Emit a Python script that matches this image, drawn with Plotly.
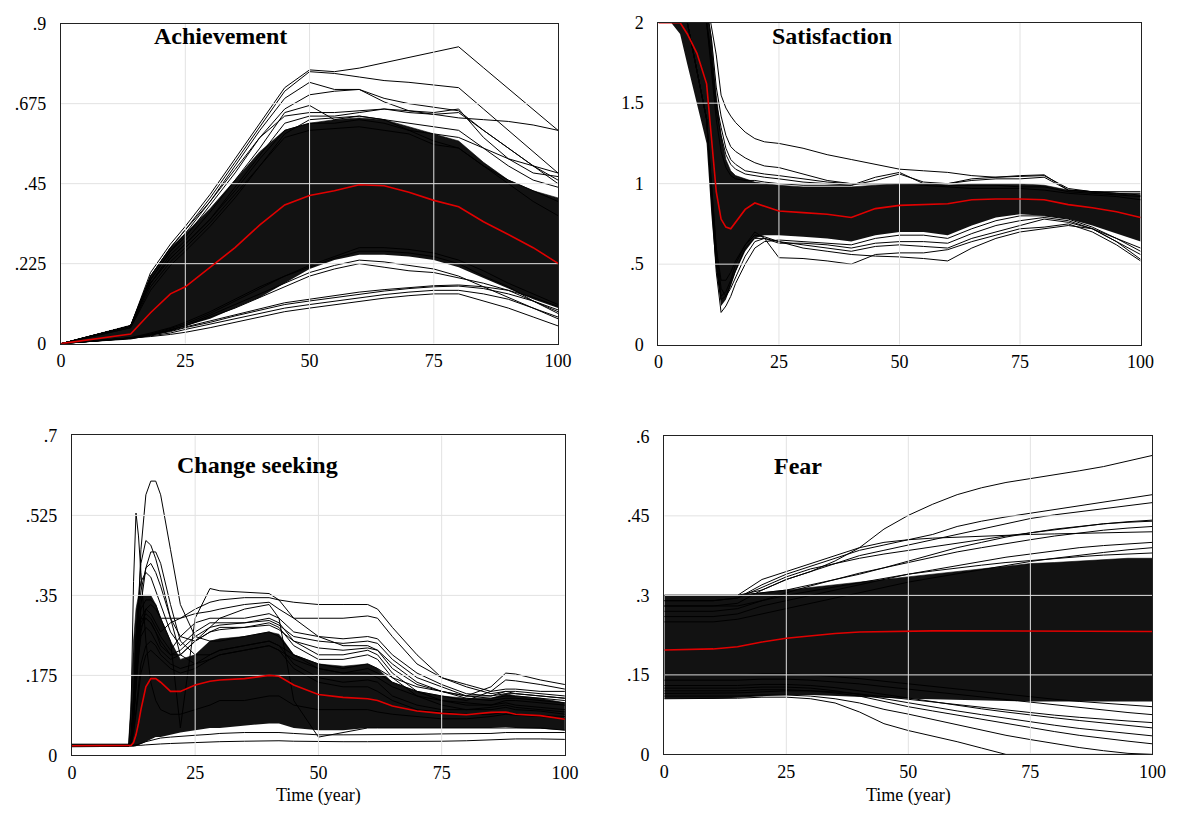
import plotly.graph_objects as go

# ---------------- Achievement ----------------
ach_t = [0, 14, 18, 22, 25, 30, 35, 40, 45, 50, 55, 60, 65, 70, 75, 80, 85, 90, 95, 100]
ach_mean = [0, 0.027, 0.087, 0.14, 0.16, 0.215, 0.27, 0.334, 0.39, 0.417, 0.43, 0.447, 0.444, 0.426, 0.403, 0.385, 0.343, 0.307, 0.27, 0.226]
ach_core_hi = [0, 0.052, 0.19, 0.27, 0.31, 0.38, 0.46, 0.54, 0.60, 0.62, 0.63, 0.635, 0.63, 0.61, 0.59, 0.57, 0.51, 0.46, 0.43, 0.41]
ach_core_lo = [0, 0.012, 0.022, 0.035, 0.05, 0.07, 0.10, 0.13, 0.17, 0.21, 0.235, 0.25, 0.25, 0.245, 0.235, 0.215, 0.185, 0.155, 0.125, 0.10]
ach_a1 = [0, 0.05, 0.20, 0.28, 0.33, 0.42, 0.52, 0.62, 0.72, 0.77, 0.765, 0.775, 0.79, 0.805, 0.82, 0.835, 0.776, 0.718, 0.66, 0.60]
ach_a2 = [0, 0.05, 0.19, 0.27, 0.32, 0.41, 0.51, 0.61, 0.71, 0.765, 0.76, 0.75, 0.74, 0.735, 0.728, 0.72, 0.66, 0.60, 0.54, 0.48]
ach_a3 = [0, 0.05, 0.18, 0.26, 0.31, 0.40, 0.50, 0.60, 0.69, 0.735, 0.715, 0.715, 0.69, 0.675, 0.665, 0.655, 0.60, 0.55, 0.50, 0.46]
ach_a4 = [0, 0.05, 0.18, 0.26, 0.30, 0.39, 0.48, 0.58, 0.66, 0.70, 0.71, 0.715, 0.68, 0.655, 0.645, 0.635, 0.63, 0.625, 0.615, 0.60]
ach_a5 = [0, 0.05, 0.17, 0.25, 0.29, 0.37, 0.46, 0.55, 0.65, 0.67, 0.63, 0.64, 0.63, 0.60, 0.57, 0.55, 0.50, 0.45, 0.40, 0.36]
ach_a6 = [0, 0.05, 0.17, 0.24, 0.28, 0.35, 0.44, 0.53, 0.62, 0.64, 0.64, 0.65, 0.66, 0.655, 0.65, 0.66, 0.58, 0.52, 0.48, 0.47]
ach_a7 = [0, 0.045, 0.15, 0.22, 0.26, 0.33, 0.41, 0.50, 0.59, 0.63, 0.635, 0.64, 0.63, 0.62, 0.61, 0.60, 0.55, 0.50, 0.46, 0.44]
ach_a8 = [0, 0.05, 0.19, 0.27, 0.32, 0.40, 0.49, 0.58, 0.64, 0.65, 0.65, 0.655, 0.66, 0.65, 0.645, 0.65, 0.60, 0.55, 0.50, 0.45]
ach_d1 = [0, 0.05, 0.17, 0.24, 0.28, 0.35, 0.43, 0.52, 0.60, 0.62, 0.62, 0.63, 0.62, 0.60, 0.59, 0.58, 0.55, 0.52, 0.50, 0.48]
ach_d2 = [0, 0.045, 0.16, 0.23, 0.27, 0.34, 0.42, 0.50, 0.58, 0.60, 0.605, 0.61, 0.60, 0.59, 0.56, 0.55, 0.50, 0.46, 0.43, 0.40]
ach_b1 = [0, 0.015, 0.022, 0.03, 0.04, 0.055, 0.07, 0.085, 0.10, 0.11, 0.12, 0.13, 0.138, 0.145, 0.15, 0.15, 0.14, 0.125, 0.10, 0.075]
ach_b2 = [0, 0.015, 0.024, 0.034, 0.045, 0.06, 0.078, 0.095, 0.11, 0.12, 0.13, 0.14, 0.148, 0.155, 0.16, 0.162, 0.155, 0.14, 0.12, 0.095]
ach_b3 = [0, 0.014, 0.02, 0.026, 0.032, 0.045, 0.06, 0.075, 0.09, 0.10, 0.11, 0.12, 0.128, 0.135, 0.14, 0.14, 0.12, 0.10, 0.075, 0.05]
ach_b4 = [0, 0.016, 0.025, 0.036, 0.047, 0.064, 0.083, 0.10, 0.115, 0.125, 0.135, 0.145, 0.152, 0.158, 0.163, 0.165, 0.16, 0.15, 0.13, 0.105]
ach_c1 = [0, 0.016, 0.026, 0.04, 0.05, 0.08, 0.11, 0.14, 0.17, 0.20, 0.22, 0.235, 0.23, 0.22, 0.21, 0.19, 0.16, 0.13, 0.10, 0.07]
ach_c2 = [0, 0.016, 0.027, 0.042, 0.055, 0.085, 0.12, 0.155, 0.19, 0.215, 0.24, 0.26, 0.26, 0.255, 0.245, 0.225, 0.19, 0.16, 0.12, 0.09]
ach_c3 = [0, 0.017, 0.03, 0.045, 0.06, 0.09, 0.125, 0.16, 0.19, 0.22, 0.245, 0.27, 0.27, 0.265, 0.255, 0.235, 0.205, 0.17, 0.14, 0.11]
ach_c4 = [0, 0.016, 0.025, 0.038, 0.05, 0.075, 0.10, 0.13, 0.16, 0.19, 0.21, 0.225, 0.215, 0.205, 0.20, 0.185, 0.17, 0.15, 0.12, 0.085]
ach_ticks = [0, 0.225, 0.45, 0.675, 0.9]
ach_ticktext = ["0", ".225", ".45", ".675", ".9"]

# ---------------- Satisfaction ----------------
sat_t = [0, 4.5, 6, 8, 10, 11, 12, 13, 14, 15, 16, 18, 20, 22, 25, 30, 35, 40, 45, 50, 55, 60, 65, 70, 75, 80, 85, 90, 95, 100]
sat_mean = [2.0, 2.0, 1.93, 1.81, 1.62, 1.3, 0.95, 0.78, 0.73, 0.72, 0.76, 0.84, 0.88, 0.86, 0.83, 0.82, 0.81, 0.79, 0.845, 0.865, 0.87, 0.875, 0.9, 0.905, 0.905, 0.9, 0.87, 0.85, 0.825, 0.79]
sat_core_hi = [2.1, 2.1, 2.1, 2.1, 2.1, 1.9, 1.55, 1.3, 1.15, 1.08, 1.05, 1.03, 1.01, 1.0, 0.99, 0.98, 0.98, 0.98, 0.99, 1.0, 1.0, 0.99, 1.0, 1.0, 1.0, 0.99, 0.96, 0.95, 0.94, 0.93]
sat_core_lo = [2.1, 1.93, 1.74, 1.5, 1.25, 0.8, 0.45, 0.24, 0.28, 0.36, 0.45, 0.58, 0.66, 0.68, 0.68, 0.67, 0.66, 0.64, 0.68, 0.70, 0.70, 0.68, 0.74, 0.79, 0.81, 0.80, 0.78, 0.74, 0.69, 0.64]
sat_s1 = [2.3, 2.3, 2.28, 2.25, 2.15, 1.98, 1.8, 1.55, 1.47, 1.42, 1.38, 1.32, 1.28, 1.26, 1.25, 1.22, 1.18, 1.15, 1.12, 1.09, 1.08, 1.07, 1.05, 1.04, 1.045, 1.05, 0.97, 0.95, 0.94, 0.93]
sat_s2 = [2.3, 2.3, 2.25, 2.2, 2.1, 1.9, 1.6, 1.42, 1.3, 1.23, 1.2, 1.16, 1.13, 1.11, 1.1, 1.06, 1.02, 1.0, 1.0, 1.0, 0.99, 0.98, 0.97, 0.97, 0.97, 0.96, 0.94, 0.93, 0.92, 0.9]
sat_s3 = [2.3, 2.3, 2.2, 2.1, 2.0, 1.7, 1.4, 1.2, 1.1, 1.05, 1.03, 1.02, 1.02, 1.01, 1.0, 0.99, 0.99, 0.99, 1.04, 1.07, 1.0, 0.99, 0.99, 0.99, 0.98, 0.98, 0.95, 0.94, 0.93, 0.92]
sat_s4 = [2.3, 2.3, 2.2, 2.1, 2.0, 1.8, 1.5, 1.35, 1.22, 1.15, 1.12, 1.08, 1.07, 1.06, 1.05, 1.03, 1.01, 1.0, 1.0, 1.0, 1.0, 1.0, 1.03, 1.04, 1.05, 1.055, 0.96, 0.95, 0.95, 0.95]
sat_s9 = [2.3, 2.3, 2.2, 2.1, 2.0, 1.75, 1.45, 1.3, 1.18, 1.12, 1.09, 1.06, 1.05, 1.04, 1.03, 1.01, 1.0, 0.99, 1.02, 1.06, 1.01, 1.0, 1.02, 1.03, 1.03, 1.04, 0.96, 0.95, 0.94, 0.94]
sat_s5 = [2.3, 2.2, 2.0, 1.7, 1.4, 1.0, 0.6, 0.4, 0.4, 0.45, 0.52, 0.62, 0.70, 0.66, 0.54, 0.535, 0.52, 0.50, 0.56, 0.57, 0.57, 0.59, 0.64, 0.68, 0.72, 0.73, 0.75, 0.70, 0.62, 0.52]
sat_s6 = [2.3, 2.2, 2.0, 1.7, 1.4, 1.0, 0.6, 0.35, 0.30, 0.35, 0.42, 0.55, 0.64, 0.66, 0.64, 0.60, 0.58, 0.56, 0.55, 0.545, 0.535, 0.52, 0.60, 0.66, 0.70, 0.72, 0.74, 0.72, 0.64, 0.53]
sat_s7 = [2.3, 2.2, 2.0, 1.7, 1.4, 0.95, 0.55, 0.30, 0.33, 0.40, 0.50, 0.62, 0.68, 0.67, 0.64, 0.62, 0.60, 0.58, 0.61, 0.62, 0.61, 0.60, 0.66, 0.70, 0.74, 0.78, 0.76, 0.72, 0.66, 0.58]
sat_s8 = [2.3, 2.2, 2.0, 1.7, 1.4, 0.9, 0.45, 0.20, 0.24, 0.30, 0.38, 0.50, 0.60, 0.64, 0.65, 0.64, 0.63, 0.62, 0.66, 0.68, 0.68, 0.66, 0.72, 0.77, 0.80, 0.80, 0.78, 0.73, 0.66, 0.60]
sat_s10 = [2.3, 2.2, 2.0, 1.7, 1.4, 0.92, 0.5, 0.28, 0.30, 0.38, 0.46, 0.60, 0.66, 0.66, 0.63, 0.63, 0.62, 0.60, 0.63, 0.64, 0.64, 0.63, 0.69, 0.74, 0.77, 0.79, 0.77, 0.72, 0.64, 0.56]
sat_ticks = [0, 0.5, 1, 1.5, 2]
sat_ticktext = ["0", ".5", "1", "1.5", "2"]

# ---------------- Change seeking ----------------
chg_t = [0, 11.5, 12, 12.5, 13, 13.5, 14, 15, 16, 17, 18, 20, 22, 25, 28, 30, 35, 40, 42, 45, 50, 55, 60, 62, 65, 70, 75, 80, 85, 88, 90, 95, 100]
chg_mean = [0.021, 0.021, 0.022, 0.028, 0.045, 0.07, 0.10, 0.15, 0.168, 0.168, 0.16, 0.14, 0.14, 0.154, 0.162, 0.165, 0.168, 0.175, 0.173, 0.154, 0.133, 0.127, 0.124, 0.12, 0.108, 0.097, 0.092, 0.089, 0.094, 0.095, 0.09, 0.087, 0.079]
chg_core_hi = [0.025, 0.025, 0.12, 0.25, 0.32, 0.35, 0.35, 0.35, 0.35, 0.33, 0.30, 0.25, 0.21, 0.22, 0.25, 0.255, 0.26, 0.27, 0.265, 0.22, 0.20, 0.195, 0.20, 0.19, 0.16, 0.14, 0.13, 0.125, 0.125, 0.135, 0.13, 0.125, 0.115]
chg_core_lo = [0.018, 0.018, 0.018, 0.019, 0.02, 0.022, 0.025, 0.03, 0.035, 0.04, 0.04, 0.045, 0.05, 0.055, 0.06, 0.06, 0.065, 0.07, 0.07, 0.06, 0.055, 0.055, 0.06, 0.06, 0.06, 0.06, 0.06, 0.06, 0.06, 0.062, 0.06, 0.058, 0.055]
chg_p1 = [0.021, 0.021, 0.03, 0.08, 0.20, 0.33, 0.45, 0.57, 0.60, 0.60, 0.57, 0.45, 0.33, 0.26, 0.25, 0.25, 0.26, 0.27, 0.26, 0.22, 0.19, 0.18, 0.18, 0.17, 0.15, 0.13, 0.12, 0.115, 0.11, 0.12, 0.12, 0.115, 0.11]
chg_p2 = [0.021, 0.021, 0.10, 0.38, 0.53, 0.48, 0.40, 0.25, 0.16, 0.12, 0.10, 0.09, 0.09, 0.10, 0.11, 0.12, 0.12, 0.13, 0.13, 0.11, 0.10, 0.10, 0.10, 0.095, 0.09, 0.085, 0.08, 0.08, 0.085, 0.09, 0.088, 0.085, 0.08]
chg_p3 = [0.021, 0.021, 0.04, 0.12, 0.25, 0.35, 0.42, 0.47, 0.46, 0.43, 0.39, 0.30, 0.22, 0.20, 0.21, 0.22, 0.23, 0.24, 0.23, 0.19, 0.16, 0.15, 0.15, 0.14, 0.12, 0.10, 0.095, 0.09, 0.09, 0.095, 0.09, 0.088, 0.085]
chg_p4 = [0.021, 0.021, 0.03, 0.07, 0.15, 0.25, 0.33, 0.41, 0.445, 0.445, 0.42, 0.33, 0.25, 0.22, 0.22, 0.23, 0.24, 0.25, 0.24, 0.20, 0.17, 0.16, 0.165, 0.16, 0.13, 0.11, 0.10, 0.10, 0.10, 0.105, 0.10, 0.097, 0.09]
chg_p5 = [0.021, 0.021, 0.035, 0.10, 0.20, 0.30, 0.36, 0.41, 0.42, 0.40, 0.37, 0.30, 0.26, 0.25, 0.27, 0.28, 0.28, 0.29, 0.28, 0.24, 0.21, 0.21, 0.22, 0.21, 0.17, 0.13, 0.11, 0.10, 0.105, 0.11, 0.105, 0.10, 0.095]
chg_p6 = [0.021, 0.021, 0.04, 0.13, 0.26, 0.34, 0.38, 0.40, 0.39, 0.36, 0.33, 0.27, 0.24, 0.27, 0.29, 0.29, 0.29, 0.30, 0.29, 0.25, 0.22, 0.22, 0.23, 0.22, 0.18, 0.14, 0.12, 0.11, 0.11, 0.115, 0.11, 0.105, 0.10]
chg_q1 = [0.021, 0.021, 0.03, 0.08, 0.15, 0.22, 0.27, 0.32, 0.33, 0.32, 0.30, 0.25, 0.06, 0.30, 0.365, 0.36, 0.357, 0.354, 0.34, 0.30, 0.26, 0.24, 0.24, 0.23, 0.20, 0.16, 0.14, 0.13, 0.13, 0.14, 0.135, 0.13, 0.125]
chg_q2 = [0.021, 0.021, 0.03, 0.10, 0.20, 0.28, 0.32, 0.34, 0.34, 0.33, 0.30, 0.30, 0.30, 0.32, 0.335, 0.34, 0.345, 0.345, 0.34, 0.335, 0.33, 0.33, 0.33, 0.32, 0.28, 0.22, 0.17, 0.155, 0.14, 0.145, 0.145, 0.14, 0.14]
chg_q3 = [0.021, 0.021, 0.03, 0.09, 0.18, 0.26, 0.30, 0.32, 0.31, 0.29, 0.27, 0.29, 0.30, 0.31, 0.315, 0.32, 0.33, 0.335, 0.32, 0.30, 0.30, 0.30, 0.305, 0.30, 0.26, 0.20, 0.17, 0.15, 0.135, 0.14, 0.14, 0.135, 0.13]
chg_q4 = [0.021, 0.021, 0.03, 0.10, 0.20, 0.27, 0.30, 0.30, 0.29, 0.27, 0.24, 0.22, 0.22, 0.25, 0.28, 0.30, 0.32, 0.33, 0.30, 0.12, 0.04, 0.05, 0.06, 0.06, 0.06, 0.06, 0.06, 0.06, 0.06, 0.06, 0.06, 0.06, 0.055]
chg_m1 = [0.021, 0.021, 0.03, 0.09, 0.17, 0.24, 0.28, 0.30, 0.29, 0.27, 0.25, 0.22, 0.23, 0.26, 0.28, 0.285, 0.29, 0.295, 0.285, 0.26, 0.25, 0.245, 0.25, 0.245, 0.21, 0.17, 0.15, 0.13, 0.125, 0.13, 0.13, 0.125, 0.12]
chg_m2 = [0.021, 0.021, 0.03, 0.08, 0.16, 0.22, 0.26, 0.28, 0.27, 0.25, 0.23, 0.21, 0.22, 0.25, 0.27, 0.275, 0.28, 0.285, 0.275, 0.25, 0.235, 0.23, 0.235, 0.23, 0.19, 0.155, 0.14, 0.125, 0.12, 0.125, 0.125, 0.12, 0.115]
chg_m3 = [0.021, 0.021, 0.03, 0.09, 0.18, 0.25, 0.29, 0.31, 0.30, 0.28, 0.26, 0.23, 0.26, 0.29, 0.30, 0.30, 0.30, 0.31, 0.30, 0.27, 0.26, 0.255, 0.26, 0.255, 0.22, 0.18, 0.155, 0.135, 0.13, 0.135, 0.135, 0.13, 0.125]
chg_r1 = [0.021, 0.021, 0.025, 0.05, 0.10, 0.15, 0.20, 0.24, 0.25, 0.24, 0.22, 0.20, 0.19, 0.20, 0.22, 0.23, 0.24, 0.25, 0.24, 0.22, 0.20, 0.19, 0.20, 0.19, 0.17, 0.15, 0.14, 0.13, 0.15, 0.18, 0.178, 0.165, 0.155]
chg_r2 = [0.021, 0.021, 0.025, 0.05, 0.09, 0.14, 0.18, 0.22, 0.23, 0.22, 0.21, 0.19, 0.18, 0.19, 0.21, 0.22, 0.23, 0.24, 0.23, 0.21, 0.19, 0.18, 0.19, 0.18, 0.16, 0.14, 0.13, 0.12, 0.14, 0.165, 0.163, 0.155, 0.145]
chg_w1 = [0.021, 0.021, 0.021, 0.021, 0.021, 0.022, 0.022, 0.023, 0.024, 0.025, 0.025, 0.026, 0.027, 0.028, 0.029, 0.03, 0.031, 0.032, 0.032, 0.031, 0.03, 0.03, 0.03, 0.03, 0.03, 0.03, 0.031, 0.032, 0.034, 0.036, 0.036, 0.036, 0.035]
chg_w2 = [0.021, 0.021, 0.021, 0.022, 0.023, 0.024, 0.026, 0.03, 0.033, 0.036, 0.038, 0.04, 0.042, 0.044, 0.046, 0.048, 0.05, 0.05, 0.05, 0.048, 0.045, 0.045, 0.045, 0.045, 0.046, 0.046, 0.047, 0.047, 0.048, 0.05, 0.05, 0.05, 0.05]
chg_ticks = [0, 0.175, 0.35, 0.525, 0.7]
chg_ticktext = ["0", ".175", ".35", ".525", ".7"]

# ---------------- Fear ----------------
fear_t = [0, 10, 15, 20, 25, 30, 35, 40, 45, 50, 55, 60, 65, 70, 75, 80, 85, 90, 95, 100]
fear_mean = [0.197, 0.199, 0.203, 0.212, 0.219, 0.224, 0.228, 0.231, 0.232, 0.232, 0.233, 0.233, 0.233, 0.233, 0.233, 0.232, 0.232, 0.232, 0.232, 0.232]
fear_core_hi = [0.30, 0.30, 0.30, 0.305, 0.31, 0.315, 0.32, 0.325, 0.33, 0.335, 0.34, 0.345, 0.35, 0.355, 0.36, 0.362, 0.365, 0.368, 0.37, 0.37]
fear_core_lo = [0.105, 0.105, 0.107, 0.11, 0.112, 0.112, 0.11, 0.108, 0.106, 0.105, 0.104, 0.103, 0.102, 0.10, 0.10, 0.10, 0.10, 0.10, 0.10, 0.10]
fear_f1 = [0.30, 0.30, 0.30, 0.31, 0.33, 0.345, 0.365, 0.39, 0.425, 0.451, 0.472, 0.49, 0.503, 0.513, 0.52, 0.527, 0.535, 0.543, 0.553, 0.564]
fear_f2 = [0.29, 0.29, 0.295, 0.32, 0.34, 0.355, 0.37, 0.385, 0.395, 0.405, 0.415, 0.43, 0.44, 0.448, 0.455, 0.463, 0.47, 0.477, 0.484, 0.49]
fear_f3 = [0.28, 0.28, 0.285, 0.31, 0.33, 0.345, 0.36, 0.375, 0.385, 0.395, 0.405, 0.415, 0.425, 0.435, 0.445, 0.452, 0.458, 0.464, 0.47, 0.475]
fear_f4 = [0.29, 0.29, 0.295, 0.315, 0.335, 0.35, 0.36, 0.37, 0.378, 0.385, 0.392, 0.398, 0.405, 0.412, 0.418, 0.424, 0.43, 0.435, 0.439, 0.442]
fear_f5 = [0.30, 0.30, 0.30, 0.305, 0.31, 0.32, 0.33, 0.34, 0.352, 0.365, 0.378, 0.39, 0.40, 0.41, 0.418, 0.425, 0.43, 0.435, 0.438, 0.44]
fear_f6 = [0.27, 0.27, 0.275, 0.29, 0.305, 0.318, 0.33, 0.342, 0.352, 0.362, 0.372, 0.382, 0.39, 0.398, 0.405, 0.412, 0.418, 0.423, 0.427, 0.43]
fear_f7 = [0.30, 0.30, 0.30, 0.33, 0.345, 0.36, 0.375, 0.39, 0.40, 0.405, 0.408, 0.41, 0.412, 0.414, 0.415, 0.416, 0.417, 0.418, 0.419, 0.42]
fear_f8 = [0.26, 0.26, 0.265, 0.28, 0.29, 0.30, 0.31, 0.32, 0.33, 0.34, 0.348, 0.356, 0.364, 0.372, 0.378, 0.384, 0.39, 0.394, 0.397, 0.40]
fear_f9 = [0.25, 0.25, 0.255, 0.265, 0.275, 0.285, 0.295, 0.305, 0.315, 0.325, 0.333, 0.341, 0.349, 0.357, 0.364, 0.37, 0.376, 0.381, 0.386, 0.39]
fear_f10 = [0.28, 0.28, 0.28, 0.29, 0.30, 0.308, 0.316, 0.324, 0.332, 0.34, 0.346, 0.352, 0.357, 0.362, 0.366, 0.37, 0.373, 0.376, 0.378, 0.38]
fear_g1 = [0.105, 0.105, 0.106, 0.108, 0.108, 0.105, 0.097, 0.08, 0.058, 0.045, 0.035, 0.024, 0.012, 0.0, 0.0, 0.0, 0.0, 0.0, 0.0, 0.0]
fear_g2 = [0.11, 0.11, 0.11, 0.112, 0.112, 0.11, 0.105, 0.097, 0.085, 0.076, 0.066, 0.056, 0.046, 0.036, 0.028, 0.02, 0.013, 0.007, 0.002, 0.0]
fear_g3 = [0.12, 0.12, 0.12, 0.122, 0.122, 0.12, 0.116, 0.11, 0.10, 0.09, 0.082, 0.074, 0.066, 0.058, 0.05, 0.043, 0.036, 0.03, 0.025, 0.02]
fear_g4 = [0.125, 0.125, 0.125, 0.127, 0.127, 0.125, 0.12, 0.113, 0.105, 0.097, 0.09, 0.082, 0.075, 0.068, 0.061, 0.055, 0.049, 0.044, 0.04, 0.035]
fear_g5 = [0.13, 0.13, 0.13, 0.132, 0.132, 0.13, 0.126, 0.12, 0.113, 0.106, 0.099, 0.092, 0.086, 0.08, 0.074, 0.069, 0.064, 0.059, 0.054, 0.05]
fear_g6 = [0.115, 0.115, 0.116, 0.118, 0.12, 0.12, 0.118, 0.114, 0.109, 0.104, 0.098, 0.093, 0.088, 0.083, 0.078, 0.074, 0.07, 0.066, 0.063, 0.06]
fear_g7 = [0.14, 0.14, 0.14, 0.142, 0.142, 0.14, 0.137, 0.133, 0.128, 0.123, 0.118, 0.113, 0.108, 0.103, 0.098, 0.093, 0.088, 0.084, 0.079, 0.075]
fear_g8 = [0.15, 0.15, 0.15, 0.152, 0.152, 0.15, 0.147, 0.143, 0.138, 0.133, 0.128, 0.123, 0.118, 0.113, 0.108, 0.104, 0.10, 0.097, 0.093, 0.09]
fear_ticks = [0, 0.15, 0.3, 0.45, 0.6]
fear_ticktext = ["0", ".15", ".3", ".45", ".6"]

time_ticks = [0, 25, 50, 75, 100]
titles = ["Achievement", "Satisfaction", "Change seeking", "Fear"]
xlabel = "Time (year)"

panels = [
    dict(t=ach_t, mean=ach_mean, hi=ach_core_hi, lo=ach_core_lo,
         runs=[ach_a1, ach_a2, ach_a3, ach_a4, ach_a5, ach_a6, ach_a7, ach_a8, ach_d1, ach_d2,
               ach_b1, ach_b2, ach_b3, ach_b4, ach_c1, ach_c2, ach_c3, ach_c4],
         ticks=ach_ticks, ticktext=ach_ticktext,
         xdom=[57 / 1190, 562 / 1190], ydom=[1 - 342 / 821, 1 - 14 / 821],
         title_pos=(149 / 1190, 1 - 27 / 821), xlab=False),
    dict(t=sat_t, mean=sat_mean, hi=sat_core_hi, lo=sat_core_lo,
         runs=[sat_s1, sat_s2, sat_s3, sat_s4, sat_s9, sat_s5, sat_s6, sat_s7, sat_s8, sat_s10],
         ticks=sat_ticks, ticktext=sat_ticktext,
         xdom=[664 / 1190, 1154 / 1190], ydom=[1 - 343 / 821, 1 - 13 / 821],
         title_pos=(777 / 1190, 1 - 27 / 821), xlab=False),
    dict(t=chg_t, mean=chg_mean, hi=chg_core_hi, lo=chg_core_lo,
         runs=[chg_p1, chg_p2, chg_p3, chg_p4, chg_p5, chg_p6, chg_q1, chg_q2, chg_q3, chg_q4,
               chg_m1, chg_m2, chg_m3, chg_r1, chg_r2, chg_w1, chg_w2],
         ticks=chg_ticks, ticktext=chg_ticktext,
         xdom=[68 / 1190, 569 / 1190], ydom=[1 - 764 / 821, 1 - 436 / 821],
         title_pos=(173 / 1190, 1 - 466 / 821), xlab=True),
    dict(t=fear_t, mean=fear_mean, hi=fear_core_hi, lo=fear_core_lo,
         runs=[fear_f1, fear_f2, fear_f3, fear_f4, fear_f5, fear_f6, fear_f7, fear_f8, fear_f9, fear_f10,
               fear_g1, fear_g2, fear_g3, fear_g4, fear_g5, fear_g6, fear_g7, fear_g8],
         ticks=fear_ticks, ticktext=fear_ticktext,
         xdom=[670 / 1190, 1166 / 1190], ydom=[1 - 763 / 821, 1 - 437 / 821],
         title_pos=(779 / 1190, 1 - 467 / 821), xlab=True),
]

FONT = "Liberation Serif, Times New Roman, serif"
fig = go.Figure()
layout = dict(width=1190, height=821, margin=dict(l=0, r=0, t=0, b=0),
              paper_bgcolor="white", plot_bgcolor="white", showlegend=False,
              annotations=[])

for i, p in enumerate(panels):
    k = "" if i == 0 else str(i + 1)
    xa, ya = "x" + k, "y" + k
    ymax = p["ticks"][-1]
    # dense core of runs
    fig.add_trace(go.Scatter(x=p["t"], y=p["lo"], mode="lines", line=dict(width=0, color="black"),
                             xaxis=xa, yaxis=ya, hoverinfo="skip"))
    fig.add_trace(go.Scatter(x=p["t"], y=p["hi"], mode="lines", line=dict(width=0.6, color="black"),
                             fill="tonexty", fillcolor="rgba(0,0,0,0.93)",
                             xaxis=xa, yaxis=ya, hoverinfo="skip"))
    # individual runs
    for r in p["runs"]:
        fig.add_trace(go.Scatter(x=p["t"], y=r, mode="lines", line=dict(width=1, color="black"),
                                 xaxis=xa, yaxis=ya, hoverinfo="skip"))
    # grid lines drawn over the runs (Vensim style)
    for tv in time_ticks[1:-1]:
        fig.add_trace(go.Scatter(x=[tv, tv], y=[0, ymax], mode="lines",
                                 line=dict(width=1, color="#e2e2e2"),
                                 xaxis=xa, yaxis=ya, hoverinfo="skip"))
    for yv in p["ticks"][1:-1]:
        fig.add_trace(go.Scatter(x=[0, 100], y=[yv, yv], mode="lines",
                                 line=dict(width=1, color="#e2e2e2"),
                                 xaxis=xa, yaxis=ya, hoverinfo="skip"))
    # mean run in red
    fig.add_trace(go.Scatter(x=p["t"], y=p["mean"], mode="lines", line=dict(width=1.6, color="#e00000"),
                             xaxis=xa, yaxis=ya, hoverinfo="skip"))

    layout["xaxis" + k] = dict(domain=p["xdom"], anchor=ya, range=[0, 100],
                               tickvals=time_ticks, ticktext=[str(v) for v in time_ticks],
                               showgrid=False, zeroline=False, showline=True, mirror=True,
                               linecolor="#222", linewidth=1.3, ticks="", ticklabelstandoff=1,
                               tickfont=dict(family=FONT, size=18, color="black"))
    layout["yaxis" + k] = dict(domain=p["ydom"], anchor=xa, range=[0, ymax],
                               tickvals=p["ticks"], ticktext=p["ticktext"],
                               showgrid=False, zeroline=False, showline=True, mirror=True,
                               linecolor="#222", linewidth=1.3, ticks="", ticklabelstandoff=10,
                               tickfont=dict(family=FONT, size=18, color="black"))
    layout["annotations"].append(dict(text="<b>" + titles[i] + "</b>", xref="paper", yref="paper",
                                      x=p["title_pos"][0], y=p["title_pos"][1],
                                      xanchor="left", yanchor="middle", showarrow=False,
                                      font=dict(family=FONT, size=24, color="black")))
    if p["xlab"]:
        layout["annotations"].append(dict(text=xlabel, xref="paper", yref="paper",
                                          x=(p["xdom"][0] + p["xdom"][1]) / 2, y=1 - 805 / 821,
                                          xanchor="center", yanchor="middle", showarrow=False,
                                          font=dict(family=FONT, size=18, color="black")))

fig.update_layout(**layout)
fig.write_html("out.html")
